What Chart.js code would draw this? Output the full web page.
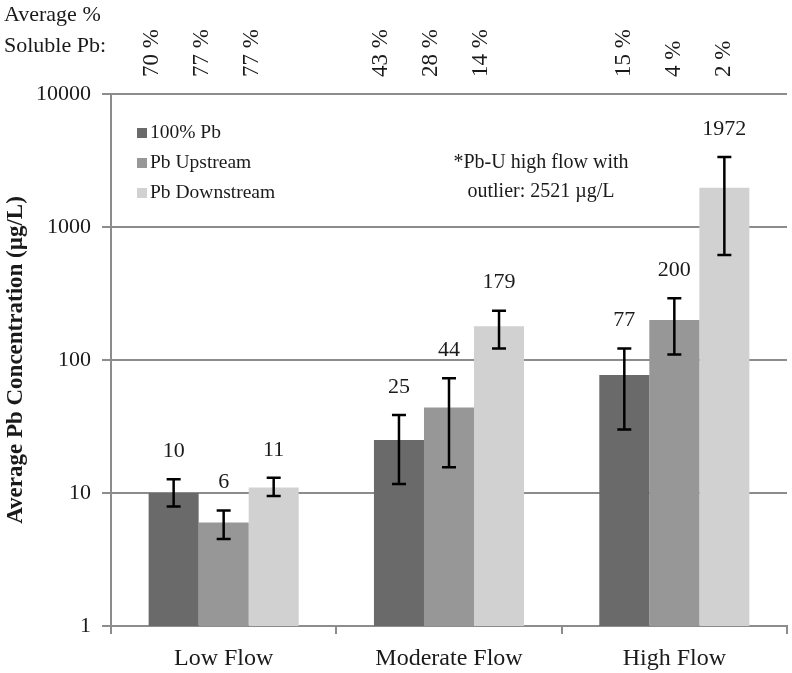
<!DOCTYPE html>
<html lang="en">
<head>
    <meta charset="UTF-8">
    <title>Average Pb Concentration</title>
    <script src="https://cdn.jsdelivr.net/npm/chart.js"></script>
    <style>
        body { margin: 0; background: #fff; }
    </style>
</head>
<body>
    <canvas id="pbChart" width="792" height="673"></canvas>

    <script>
        // Data
        const categories = ['Low Flow', 'Moderate Flow', 'High Flow'];
        const seriesNames = ['100% Pb', 'Pb Upstream', 'Pb Downstream'];
        const pb100 = [10, 25, 77];
        const pbUp = [6, 44, 200];
        const pbDown = [11, 179, 1972];
        // error bar ends (low, high)
        const pb100Err = [[7.9, 12.7], [11.7, 38.6], [30, 122]];
        const pbUpErr = [[4.5, 7.4], [15.6, 73], [110, 291]];
        const pbDownErr = [[9.5, 13], [122, 235], [615, 3360]];
        // average % soluble Pb, per series per category
        const solubleLow = ['70 %', '77 %', '77 %'];
        const solubleModerate = ['43 %', '28 %', '14 %'];
        const solubleHigh = ['15 %', '4 %', '2 %'];
        const yTicks = [1, 10, 100, 1000, 10000];
        const noteLines = ['*Pb-U high flow with', 'outlier: 2521 µg/L'];

        const colors = ['#6a6a6a', '#979797', '#d1d1d1'];
        const gridColor = '#8c8c8c';
        const textColor = '#1a1a1a';
        const serif = '"Liberation Serif", "DejaVu Serif", serif';

        const errors = [pb100Err, pbUpErr, pbDownErr];
        const soluble = [solubleLow, solubleModerate, solubleHigh];

        // error bars, value labels, legend, notes
        const overlay = {
            id: 'overlay',
            afterDatasetsDraw(chart) {
                const ctx = chart.ctx;
                const y = chart.scales.y;
                ctx.save();
                chart.data.datasets.forEach((ds, i) => {
                    const meta = chart.getDatasetMeta(i);
                    meta.data.forEach((bar, j) => {
                        const [lo, hi] = errors[i][j];
                        const yLo = y.getPixelForValue(lo);
                        const yHi = y.getPixelForValue(hi);
                        ctx.strokeStyle = '#000';
                        ctx.lineWidth = 2.5;
                        ctx.beginPath();
                        ctx.moveTo(bar.x, yLo);
                        ctx.lineTo(bar.x, yHi);
                        ctx.moveTo(bar.x - 7, yLo);
                        ctx.lineTo(bar.x + 7, yLo);
                        ctx.moveTo(bar.x - 7, yHi);
                        ctx.lineTo(bar.x + 7, yHi);
                        ctx.stroke();

                        ctx.fillStyle = textColor;
                        ctx.font = '22px ' + serif;
                        ctx.textAlign = 'center';
                        ctx.textBaseline = 'middle';
                        ctx.fillText(String(ds.data[j]), bar.x, yHi - 28);
                    });
                });

                // soluble Pb percentages above the plot
                const nudge = [-22, -18, 0];
                ctx.font = '22px ' + serif;
                ctx.fillStyle = textColor;
                ctx.textAlign = 'left';
                ctx.textBaseline = 'middle';
                ctx.fillText('Average %', 4, 15);
                ctx.fillText('Soluble Pb:', 4, 46);
                ctx.font = '23px ' + serif;
                categories.forEach((c, j) => {
                    seriesNames.forEach((s, i) => {
                        const bar = chart.getDatasetMeta(i).data[j];
                        ctx.save();
                        ctx.translate(bar.x + nudge[j], 77);
                        ctx.rotate(-Math.PI / 2);
                        ctx.fillText(soluble[j][i], 0, 0);
                        ctx.restore();
                    });
                });

                // legend inside the plot
                ctx.font = '19.5px ' + serif;
                seriesNames.forEach((s, i) => {
                    const ly = 133 + i * 30;
                    ctx.fillStyle = colors[i];
                    ctx.fillRect(137, ly - 5, 10, 10);
                    ctx.fillStyle = textColor;
                    ctx.fillText(s, 150, ly);
                });

                // outlier note
                ctx.font = '20px ' + serif;
                ctx.textAlign = 'center';
                noteLines.forEach((t, k) => {
                    ctx.fillText(t, 541, 163 + k * 29);
                });
                ctx.restore();
            }
        };

        const ctx = document.getElementById('pbChart').getContext('2d');
        const pbChart = new Chart(ctx, {
            type: 'bar',
            data: {
                labels: categories,
                datasets: [pb100, pbUp, pbDown].map((d, i) => ({
                    label: seriesNames[i],
                    data: d,
                    backgroundColor: colors[i],
                    categoryPercentage: 0.666,
                    barPercentage: 1.0
                }))
            },
            options: {
                responsive: false,
                animation: false,
                layout: { padding: { top: 94, right: 5, left: 0, bottom: 0 } },
                plugins: {
                    legend: { display: false },
                    tooltip: { enabled: false }
                },
                scales: {
                    x: {
                        grid: {
                            offset: true,
                            drawOnChartArea: false,
                            drawTicks: true,
                            tickLength: 8,
                            color: gridColor,
                            lineWidth: 2
                        },
                        border: { color: gridColor, width: 2 },
                        ticks: {
                            color: textColor,
                            font: { family: serif, size: 24 },
                            padding: 10
                        },
                        afterFit(scale) { scale.height = 47; }
                    },
                    y: {
                        type: 'logarithmic',
                        min: 1,
                        max: 10000,
                        afterBuildTicks(scale) {
                            scale.ticks = yTicks.map(v => ({ value: v }));
                        },
                        grid: {
                            color: gridColor,
                            lineWidth: 2,
                            tickLength: 9
                        },
                        border: { color: gridColor, width: 2 },
                        ticks: {
                            color: textColor,
                            font: { family: serif, size: 22 },
                            padding: 11,
                            callback: v => String(v)
                        },
                        title: {
                            display: true,
                            text: 'Average Pb Concentration (µg/L)',
                            color: textColor,
                            font: { family: serif, size: 23, weight: 'bold' },
                            padding: { top: 2, bottom: 0 }
                        },
                        afterFit(scale) { scale.width = 111; }
                    }
                }
            },
            plugins: [overlay]
        });
    </script>
</body>
</html>
